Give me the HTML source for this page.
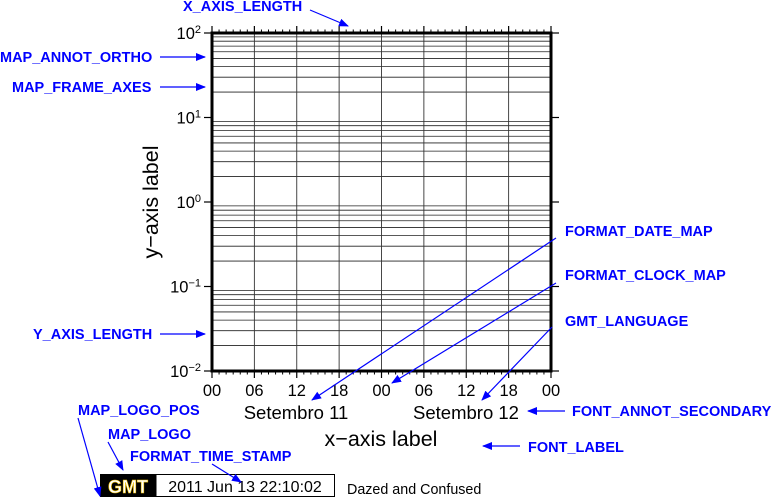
<!DOCTYPE html>
<html><head><meta charset="utf-8"><style>
body{margin:0;background:#fff;}
svg{display:block;font-family:"Liberation Sans",sans-serif;}
.b{fill:#0000ff;font-weight:bold;font-size:14.5px;}
</style></head><body>
<svg id="c" width="775" height="499" viewBox="0 0 775 499">
<defs><marker id="ah" markerWidth="10" markerHeight="8" refX="9" refY="4" orient="auto" markerUnits="userSpaceOnUse"><path d="M0,0 L10,4 L0,8 z" fill="#0000ff"/></marker></defs>
<g id="grid"></g>
<g id="axes"></g>
<rect x="212" y="33" width="339" height="338" fill="none" stroke="#000" stroke-width="3"/>
<text x="0" y="0" transform="translate(158,202) rotate(-90)" text-anchor="middle" font-size="21.5">y−axis label</text>
<text x="381" y="446" text-anchor="middle" font-size="21.5">x−axis label</text>
<text x="296" y="419" text-anchor="middle" font-size="18.5">Setembro 11</text>
<text x="466" y="419" text-anchor="middle" font-size="18.5">Setembro 12</text>
<g>
<rect x="100.5" y="474.5" width="234" height="22" fill="#fff" stroke="#000"/>
<rect x="101" y="475" width="55" height="21" fill="#000"/>
<text x="128" y="493" text-anchor="middle" font-size="18" font-weight="bold" fill="#fff" stroke="#f0c000" stroke-width="0.6">GMT</text>
<line x1="156" y1="475" x2="156" y2="496" stroke="#000"/>
<text x="245" y="492" text-anchor="middle" font-size="16">2011 Jun 13 22:10:02</text>
</g>
<text x="347" y="494" font-size="14.3">Dazed and Confused</text>
<g stroke="#0000ff" stroke-width="1.2" fill="none">
<line x1="310" y1="10" x2="348" y2="26" marker-end="url(#ah)"/>
<line x1="160" y1="57" x2="205" y2="57" marker-end="url(#ah)"/>
<line x1="160" y1="87" x2="205" y2="87" marker-end="url(#ah)"/>
<line x1="160" y1="334" x2="205" y2="334" marker-end="url(#ah)"/>
<line x1="556" y1="238" x2="312" y2="400" marker-end="url(#ah)"/>
<line x1="556" y1="283" x2="392" y2="383" marker-end="url(#ah)"/>
<line x1="552" y1="327" x2="482" y2="400" marker-end="url(#ah)"/>
<line x1="565" y1="411" x2="528" y2="411" marker-end="url(#ah)"/>
<line x1="520" y1="446" x2="483" y2="446" marker-end="url(#ah)"/>
<line x1="78" y1="418" x2="100" y2="496" marker-end="url(#ah)"/>
<line x1="108" y1="442" x2="123" y2="470" marker-end="url(#ah)"/>
<line x1="212" y1="464" x2="241" y2="482" marker-end="url(#ah)"/>
</g>
<text class="b" x="183" y="11">X_AXIS_LENGTH</text>
<text class="b" x="0" y="62">MAP_ANNOT_ORTHO</text>
<text class="b" x="12" y="92">MAP_FRAME_AXES</text>
<text class="b" x="33" y="339">Y_AXIS_LENGTH</text>
<text class="b" x="565" y="236">FORMAT_DATE_MAP</text>
<text class="b" x="565" y="280">FORMAT_CLOCK_MAP</text>
<text class="b" x="565" y="326">GMT_LANGUAGE</text>
<text class="b" x="572" y="416">FONT_ANNOT_SECONDARY</text>
<text class="b" x="528" y="452">FONT_LABEL</text>
<text class="b" x="78" y="415">MAP_LOGO_POS</text>
<text class="b" x="108" y="439">MAP_LOGO</text>
<text class="b" x="130" y="461">FORMAT_TIME_STAMP</text>
</svg>
<script>
const yDecades=[-2,-1,0,1,2];
const yTickLabels=["10<tspan dy='-6' font-size='11'>−2</tspan>","10<tspan dy='-6' font-size='11'>−1</tspan>","10<tspan dy='-6' font-size='11'>0</tspan>","10<tspan dy='-6' font-size='11'>1</tspan>","10<tspan dy='-6' font-size='11'>2</tspan>"];
const xHours=[0,6,12,18,24,30,36,42,48];
const xTickLabels=["00","06","12","18","00","06","12","18","00"];
const X0=212,X1=551,Y0=371,Y1=33;
const yScale=v=>Y0-(Math.log10(v)-(-2))/4*(Y0-Y1);
const xScale=h=>X0+h/48*(X1-X0);
const NS="http://www.w3.org/2000/svg";
const grid=document.getElementById('grid'),axes=document.getElementById('axes');
function mk(p,tag,a){const e=document.createElementNS(NS,tag);for(const k in a)e.setAttribute(k,a[k]);p.appendChild(e);return e;}
for(let i=0;i<yDecades.length-1;i++){
  for(let m=2;m<=9;m++){
    const y=yScale(m*Math.pow(10,yDecades[i]));
    const l=mk(grid,'line',{x1:X0,x2:X1,y1:y,y2:y,stroke:'#222','stroke-width':0.8});
    
    
  }
}
xHours.forEach((h,i)=>{
  const x=xScale(h);
  const l=mk(grid,'line',{x1:x,x2:x,y1:Y1,y2:Y0,stroke:'#333','stroke-width':0.9});
  
  
  mk(axes,'line',{x1:x,x2:x,y1:Y0,y2:Y0+7,stroke:'#000','stroke-width':1.2});
  mk(axes,'line',{x1:x,x2:x,y1:Y1,y2:Y1-7,stroke:'#000','stroke-width':1.2});
  const t=mk(axes,'text',{x:x,y:396,'text-anchor':'middle','font-size':16.5});
  t.textContent=xTickLabels[i];
  
  
});
for(let h=0;h<=48;h++){
  if(h%6===0)continue;const x=xScale(h);
  mk(axes,'line',{x1:x,x2:x,y1:Y0,y2:Y0+3.5,stroke:'#000','stroke-width':1});
  mk(axes,'line',{x1:x,x2:x,y1:Y1,y2:Y1-3.5,stroke:'#000','stroke-width':1});
}
yDecades.forEach((d,i)=>{
  const y=yScale(Math.pow(10,d));
  mk(axes,'line',{x1:X0-8,x2:X0,y1:y,y2:y,stroke:'#000','stroke-width':1.2});
  mk(axes,'line',{x1:X1,x2:X1+8,y1:y,y2:y,stroke:'#000','stroke-width':1.2});
  const t=mk(axes,'text',{x:X0-11,y:y+6,'text-anchor':'end','font-size':16.5});
  t.innerHTML=yTickLabels[i];
  
  
});
</script>
</body></html>
